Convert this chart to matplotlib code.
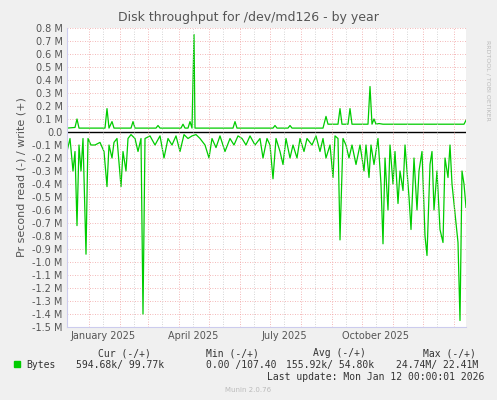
import matplotlib
matplotlib.use("Agg")
import matplotlib.pyplot as plt
import numpy as np
import pandas as pd

start = pd.Timestamp("2024-12-10")

# read (shown negative), day offset from start -> MB/s
read_days = [0, 3, 6, 8, 10, 12, 14, 16, 19, 21, 24, 28, 33, 37, 40, 42, 45, 47, 50, 54, 56, 59,
             61, 64, 68, 71, 74, 76, 78, 83, 88, 93, 97, 101, 105, 109, 113, 117, 121, 125, 129,
             133, 138, 142, 145, 149, 153, 158, 163, 167, 171, 175, 179, 183, 188, 193, 196, 200,
             203, 206, 209, 213, 216, 219, 223, 226, 230, 233, 237, 240, 245, 249, 253, 256, 259,
             263, 266, 268, 271, 273, 276, 279, 282, 285, 289, 293, 297, 299, 302, 304, 307, 311,
             314, 316, 318, 321, 323, 326, 328, 331, 333, 336, 338, 342, 344, 347, 350, 352, 355,
             358, 360, 363, 365, 367, 370, 373, 376, 378, 381, 383, 385, 388, 389, 391, 393, 395,
             397, 399]
read_vals = [0.15, 0.05, 0.30, 0.15, 0.72, 0.10, 0.30, 0.05, 0.94, 0.05, 0.10, 0.10, 0.08, 0.15,
             0.42, 0.10, 0.20, 0.08, 0.05, 0.42, 0.15, 0.30, 0.05, 0.02, 0.05, 0.15, 0.05, 1.40,
             0.05, 0.03, 0.10, 0.03, 0.20, 0.05, 0.10, 0.03, 0.15, 0.02, 0.05, 0.03, 0.02, 0.05,
             0.10, 0.20, 0.05, 0.12, 0.03, 0.15, 0.05, 0.10, 0.03, 0.05, 0.10, 0.03, 0.10, 0.05,
             0.20, 0.05, 0.10, 0.36, 0.05, 0.15, 0.25, 0.05, 0.20, 0.10, 0.20, 0.05, 0.15, 0.05,
             0.10, 0.03, 0.15, 0.05, 0.20, 0.10, 0.35, 0.03, 0.05, 0.83, 0.05, 0.10, 0.20, 0.10,
             0.25, 0.10, 0.30, 0.10, 0.35, 0.10, 0.25, 0.05, 0.40, 0.86, 0.20, 0.60, 0.10, 0.40,
             0.15, 0.55, 0.30, 0.45, 0.10, 0.50, 0.75, 0.20, 0.60, 0.30, 0.15, 0.80, 0.95, 0.25,
             0.15, 0.60, 0.30, 0.75, 0.85, 0.20, 0.35, 0.10, 0.40, 0.62, 0.70, 0.85, 1.45, 0.30,
             0.40, 0.58]

# write, day offset -> MB/s
write_days = [0, 8, 10, 12, 38, 40, 42, 45, 47, 64, 66, 68, 89, 91, 93, 114, 116, 118, 121, 123,
              125, 127, 128, 130, 166, 168, 170, 206, 208, 210, 221, 223, 225, 256, 257, 259, 261,
              263, 271, 273, 275, 281, 283, 285, 301, 303, 305, 307, 309, 312, 316, 318, 320,
              395, 397, 399]
write_vals = [0.03, 0.035, 0.10, 0.03, 0.03, 0.18, 0.03, 0.08, 0.03, 0.03, 0.08, 0.03, 0.03, 0.05,
              0.03, 0.03, 0.06, 0.03, 0.03, 0.08, 0.03, 0.75, 0.03, 0.03, 0.03, 0.08, 0.03, 0.03,
              0.05, 0.03, 0.03, 0.05, 0.03, 0.03, 0.06, 0.12, 0.06, 0.06, 0.06, 0.18, 0.06, 0.06,
              0.18, 0.06, 0.06, 0.35, 0.06, 0.10, 0.06, 0.065, 0.06, 0.06, 0.06, 0.06, 0.06,
              0.09]

yticks = np.round(np.arange(-1.5, 0.81, 0.1), 1)
month_labels = ["January 2025", "April 2025", "July 2025", "October 2025"]

bg = "#f0f0f0"
fig = plt.figure(figsize=(4.97, 4.0), dpi=100, facecolor=bg)
ax = fig.add_axes([67 / 497, 1 - 327 / 400, 399 / 497, 299 / 400])
ax.set_facecolor("white")

rd = start + pd.to_timedelta(read_days, unit="D")
wd = start + pd.to_timedelta(write_days, unit="D")
ax.plot(rd, -np.array(read_vals), color="#00cc00", lw=0.9)
ax.plot(wd, write_vals, color="#00cc00", lw=0.9)
ax.axhline(0, color="black", lw=1)

ax.set_xlim(start, start + pd.Timedelta(days=399))
ax.set_ylim(-1.5, 0.8)
ax.set_yticks(yticks)
ax.set_yticklabels(["0.0" if v == 0 else f"{v:.1f} M" for v in yticks], fontsize=7, color="#555555")

# grid: red monthly, grey mid-month
for m in pd.date_range("2025-01-01", "2026-01-01", freq="MS"):
    ax.axvline(m, color="#f0a0a0", lw=0.6, ls=(0, (1, 2)))
    ax.axvline(m + pd.Timedelta(days=14), color="#c8c8c8", lw=0.6, ls=(0, (1, 2)))
for v in yticks:
    ax.axhline(v, color="#f0a0a0", lw=0.6, ls=(0, (1, 2)), zorder=0)

ax.set_xticks(pd.to_datetime(["2025-01-15", "2025-04-15", "2025-07-15", "2025-10-15"]))
ax.set_xticklabels(month_labels, fontsize=7, color="#555555")
ax.tick_params(length=0, pad=3)
for s in ax.spines.values():
    s.set_visible(False)
ax.spines["left"].set_visible(True)
ax.spines["bottom"].set_visible(True)
ax.spines["left"].set_color("#ccccee")
ax.spines["bottom"].set_color("#ccccee")

ax.set_ylabel("Pr second read (-) / write (+)", fontsize=8, color="#555555")
fig.text(0.5, 1 - 18 / 400, "Disk throughput for /dev/md126 - by year", ha="center",
         va="center", fontsize=9, color="#555555")
fig.text(488 / 497, 0.8, "RRDTOOL / TOBI OETIKER", rotation=270, fontsize=4.5,
         color="#bbbbbb", ha="center", va="center")

mono = "DejaVu Sans Mono"
ty = 1 - 356 / 400
fs = 7
c = "#333333"
fig.text(98 / 497, ty, "Cur (-/+)", fontsize=fs, color=c, family=mono)
fig.text(206 / 497, ty, "Min (-/+)", fontsize=fs, color=c, family=mono)
fig.text(313 / 497, ty, "Avg (-/+)", fontsize=fs, color=c, family=mono)
fig.text(423 / 497, ty, "Max (-/+)", fontsize=fs, color=c, family=mono)
ty2 = 1 - 368 / 400
fig.patches.append(plt.Rectangle((14 / 497, ty2 + 0.002), 6 / 497, 6 / 400, color="#00cc00",
                                 transform=fig.transFigure, figure=fig))
fig.text(26 / 497, ty2, "Bytes", fontsize=fs, color=c, family=mono)
fig.text(76 / 497, ty2, "594.68k/ 99.77k", fontsize=fs, color=c, family=mono)
fig.text(206 / 497, ty2, "0.00 /107.40", fontsize=fs, color=c, family=mono)
fig.text(286 / 497, ty2, "155.92k/ 54.80k", fontsize=fs, color=c, family=mono)
fig.text(396 / 497, ty2, "24.74M/ 22.41M", fontsize=fs, color=c, family=mono)
fig.text(484 / 497, 1 - 380 / 400, "Last update: Mon Jan 12 00:00:01 2026", fontsize=fs,
         color=c, ha="right", family=mono)
fig.text(0.5, 1 - 392 / 400, "Munin 2.0.76", fontsize=5, color="#bbbbbb", ha="center")

fig.savefig("out.png", dpi=100, facecolor=bg)
